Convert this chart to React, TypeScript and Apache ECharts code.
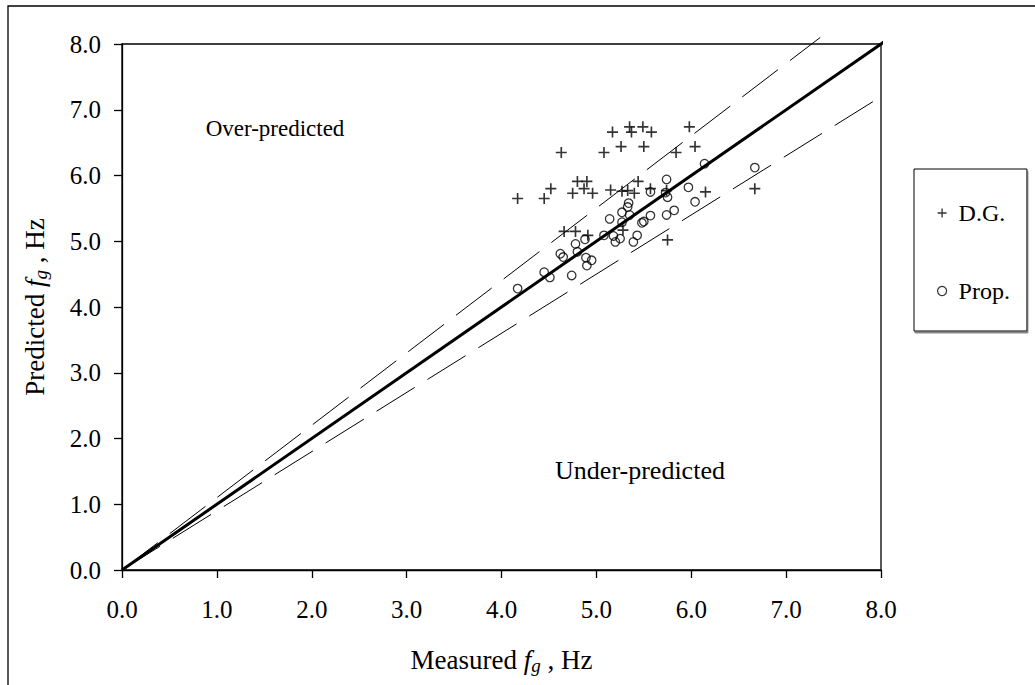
import React, { useEffect, useRef } from "react";
import * as echarts from "echarts";

// ---- data ----
const axisTicks = [0, 1, 2, 3, 4, 5, 6, 7, 8];

const dgMeasured = [
  5.17, 5.35, 5.37, 5.49, 5.58, 5.98, 4.63, 5.08, 5.26, 5.5, 5.84, 6.04,
  4.8, 4.9, 5.44, 4.52, 4.17, 4.45, 4.75, 4.87, 4.96, 5.15, 5.27, 5.33,
  5.4, 5.57, 5.74, 6.15, 6.67, 4.66, 4.78, 4.91, 5.28, 5.75,
];
const dgPredicted = [
  6.66, 6.74, 6.66, 6.74, 6.66, 6.74, 6.35, 6.35, 6.44, 6.44, 6.35, 6.44,
  5.91, 5.91, 5.91, 5.8, 5.65, 5.65, 5.73, 5.8, 5.73, 5.78, 5.76, 5.77,
  5.73, 5.8, 5.77, 5.75, 5.8, 5.15, 5.15, 5.09, 5.17, 5.02,
];

const propMeasured = [
  5.74, 5.97, 5.57, 5.73, 5.75, 6.04, 5.34, 5.33, 5.27, 5.35, 5.82, 5.74,
  5.57, 5.14, 5.27, 5.48, 5.5, 5.08, 5.18, 5.25, 5.2, 5.43, 5.39, 4.88,
  4.78, 4.8, 4.62, 4.65, 4.89, 4.95, 4.9, 4.45, 4.51, 4.74, 4.17, 6.14, 6.67,
];
const propPredicted = [
  5.94, 5.82, 5.75, 5.74, 5.67, 5.6, 5.58, 5.52, 5.44, 5.4, 5.47, 5.4,
  5.39, 5.34, 5.29, 5.28, 5.3, 5.09, 5.08, 5.04, 4.99, 5.09, 4.99, 5.03,
  4.96, 4.84, 4.81, 4.76, 4.75, 4.71, 4.63, 4.53, 4.45, 4.48, 4.28, 6.18, 6.12,
];

// reference lines: 1:1 and +/-10 %
const perfectLine = [[0, 0], [8.1, 8.1]];
const upperLine = [[0, 0], [7.36, 8.1]];
const lowerLine = [[0, 0], [8.0, 7.2]];

const FONT = "'Liberation Serif', 'Times New Roman', serif";
const PLUS = "path://M4.25,0H5.75V4.25H10V5.75H5.75V10H4.25V5.75H0V4.25H4.25Z";

export default function App() {
  const ref = useRef<HTMLDivElement>(null);

  useEffect(() => {
    if (!ref.current) return;
    const chart = echarts.init(ref.current, null, { renderer: "svg" });

    const nameRich = {
      i: { fontFamily: FONT, fontSize: 27, fontStyle: "italic", color: "#000" },
      s: {
        fontFamily: FONT,
        fontSize: 19,
        fontStyle: "italic",
        color: "#000",
        padding: [12, 0, 0, 0],
      },
    };

    const axisCommon = {
      type: "value",
      min: axisTicks[0],
      max: axisTicks[axisTicks.length - 1],
      interval: 1,
      axisLine: { show: true, lineStyle: { color: "#000", width: 1.3 } },
      axisTick: { show: true, length: 8, lineStyle: { color: "#000", width: 1.3 } },
      splitLine: { show: false },
      nameLocation: "middle",
      nameTextStyle: { fontFamily: FONT, fontSize: 27, color: "#000", rich: nameRich },
    };

    chart.setOption({
      animation: false,
      backgroundColor: "#fff",
      grid: {
        left: 122,
        top: 44,
        width: 759,
        height: 526,
        show: true,
        borderColor: "#000",
        borderWidth: 1.3,
        backgroundColor: "transparent",
      },
      xAxis: {
        ...axisCommon,
        name: "Measured {i|f}{s|g} , Hz",
        nameGap: 74,
        axisLabel: {
          margin: 27,
          fontFamily: FONT,
          fontSize: 25,
          color: "#000",
          formatter: (v: number) => v.toFixed(1),
        },
      },
      yAxis: {
        ...axisCommon,
        name: "Predicted {i|f}{s|g} , Hz",
        nameGap: 72,
        nameRotate: 90,
        axisLabel: {
          margin: 21,
          fontFamily: FONT,
          fontSize: 25,
          color: "#000",
          formatter: (v: number) => v.toFixed(1),
        },
      },
      legend: {
        orient: "vertical",
        left: 914,
        top: 169,
        padding: [32, 17, 28, 23],
        itemGap: 54,
        itemWidth: 9,
        itemHeight: 9,
        borderColor: "#000",
        borderWidth: 1,
        backgroundColor: "#fff",
        shadowColor: "#888",
        shadowOffsetX: 1,
        shadowOffsetY: 2,
        shadowBlur: 0,
        textStyle: { fontFamily: FONT, fontSize: 24, color: "#000", padding: [0, 0, 0, 7] },
        data: [
          { name: "D.G.", icon: PLUS, itemStyle: { color: "#000", borderWidth: 0 } },
          {
            name: "Prop.",
            icon: "circle",
            itemStyle: { color: "transparent", borderColor: "#000", borderWidth: 1.2 },
          },
        ],
      },
      graphic: [
        {
          type: "rect",
          silent: true,
          shape: { x: 8, y: 6, width: 1200, height: 900 },
          style: { fill: "none", stroke: "#000", lineWidth: 1.3 },
          z: -1,
        },
        {
          type: "text",
          x: 275,
          y: 128,
          style: {
            text: "Over-predicted",
            fontFamily: FONT,
            fontSize: 23,
            fill: "#000",
            align: "center",
            verticalAlign: "middle",
          },
        },
        {
          type: "text",
          x: 640,
          y: 470,
          style: {
            text: "Under-predicted",
            fontFamily: FONT,
            fontSize: 26,
            fill: "#000",
            align: "center",
            verticalAlign: "middle",
          },
        },
      ],
      series: [
        {
          type: "line",
          name: "+10%",
          data: upperLine,
          clip: false,
          symbol: "none",
          lineStyle: { color: "#000", width: 1, type: [45, 15] },
          silent: true,
        },
        {
          type: "line",
          name: "-10%",
          data: lowerLine,
          clip: false,
          symbol: "none",
          lineStyle: { color: "#000", width: 1, type: [45, 15] },
          silent: true,
        },
        {
          type: "line",
          name: "1:1",
          data: perfectLine,
          clip: false,
          symbol: "none",
          lineStyle: { color: "#000", width: 3 },
          silent: true,
        },
        {
          type: "scatter",
          name: "D.G.",
          data: dgMeasured.map((x, i) => [x, dgPredicted[i]]),
          symbol: PLUS,
          symbolSize: 11,
          itemStyle: { color: "#000" },
        },
        {
          type: "scatter",
          name: "Prop.",
          data: propMeasured.map((x, i) => [x, propPredicted[i]]),
          symbol: "circle",
          symbolSize: 8.5,
          itemStyle: { color: "transparent", borderColor: "#000", borderWidth: 1.3 },
        },
      ],
    });

    return () => chart.dispose();
  }, []);

  return (
    <div
      ref={ref}
      style={{ position: "absolute", left: 0, top: 0, width: 1035, height: 685 }}
    />
  );
}
